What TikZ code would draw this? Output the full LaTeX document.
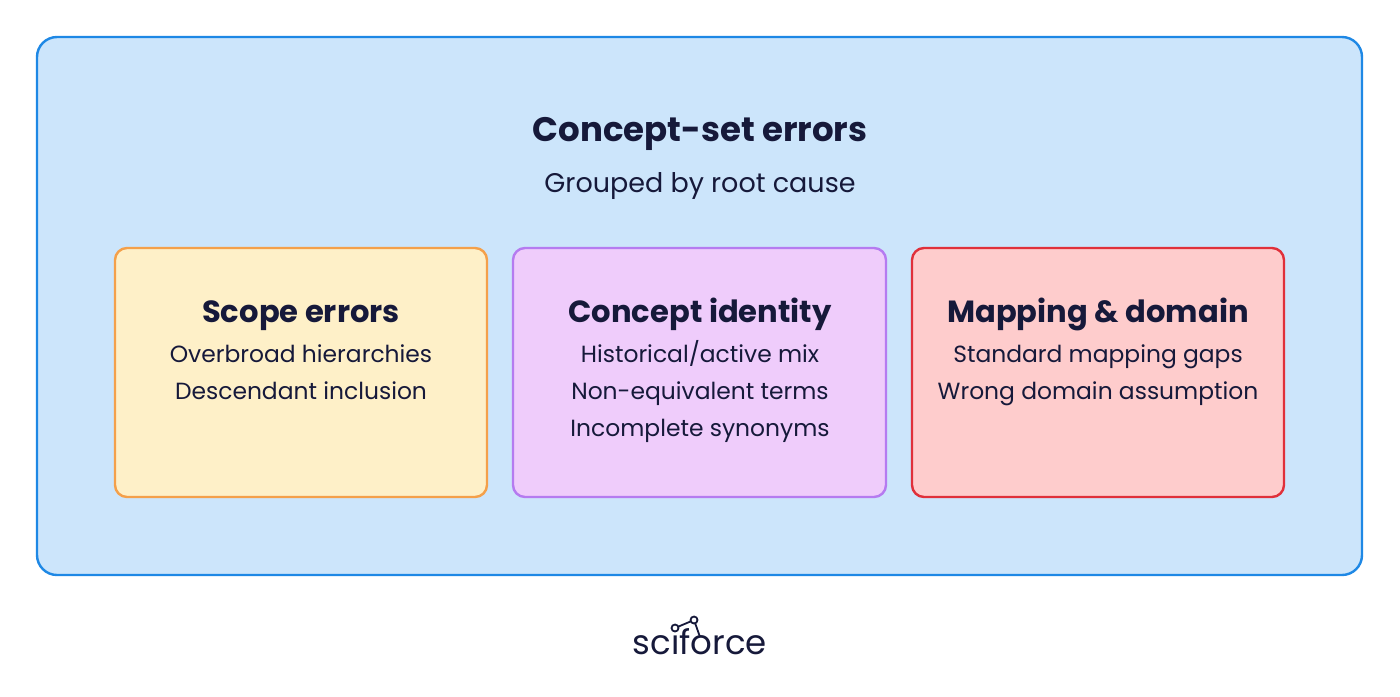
\documentclass[tikz,border=0pt]{standalone}
\usepackage{fontspec}
\setmainfont{Poppins}
\begin{document}
\begin{tikzpicture}[x=0.5pt,y=-0.5pt,
  box/.style={rounded corners=6pt,line width=1.2pt},
  head/.style={anchor=base,font=\fontsize{15.3}{18}\selectfont\bfseries,text=textc},
  item/.style={anchor=base,font=\fontsize{11.7}{14}\selectfont,text=textc}]
\definecolor{textc}{HTML}{16193A}
\definecolor{bgblue}{HTML}{CCE5FB}\definecolor{blueS}{HTML}{1E88E5}
\definecolor{orF}{HTML}{FEF0C8}\definecolor{orS}{HTML}{F4A04A}
\definecolor{puF}{HTML}{EFCCFB}\definecolor{puS}{HTML}{B57BF0}
\definecolor{reF}{HTML}{FECCCC}\definecolor{reS}{HTML}{E0303A}
\useasboundingbox (0,0) rectangle (1400,696);
\draw[box,rounded corners=10pt,fill=bgblue,draw=blueS] (37,37) rectangle (1362,575);
\node[anchor=base,font=\fontsize{17}{20}\selectfont\bfseries,text=textc] (title) at (700,141) {Concept-set errors};
\node[anchor=base,font=\fontsize{13.5}{16}\selectfont,text=textc] (sub) at (700,192) {Grouped by root cause};
\draw[box,fill=orF,draw=orS] (115,248) rectangle (487,497);
\draw[box,fill=puF,draw=puS] (513,248) rectangle (886,497);
\draw[box,fill=reF,draw=reS] (912,248) rectangle (1284,497);
\node[head] (h1) at (301,322) {Scope errors};
\node[item] (a1) at (301,362) {Overbroad hierarchies};
\node[item] (a2) at (301,399) {Descendant inclusion};
\node[head] (h2) at (700,322) {Concept identity};
\node[item] (b1) at (700,362) {Historical/active mix};
\node[item] (b2) at (700,399) {Non-equivalent terms};
\node[item] (b3) at (700,436) {Incomplete synonyms};
\node[head] (h3) at (1098,322) {Mapping \& domain};
\node[item] (c1) at (1098,362) {Standard mapping gaps};
\node[item] (c2) at (1098,399) {Wrong domain assumption};
\node[font=\fontsize{17}{20}\selectfont,text=textc] (logo) at (700,642) {sc\i force};
\coordinate (p3) at (700,637);
\draw[textc,line width=0.9pt] (675,628) -- (694,620) -- (p3);
\draw[textc,line width=0.9pt,fill=white] (675,628) circle (3.5);
\draw[textc,line width=0.9pt,fill=white] (694,620) circle (3.5);
\end{tikzpicture}
\end{document}
